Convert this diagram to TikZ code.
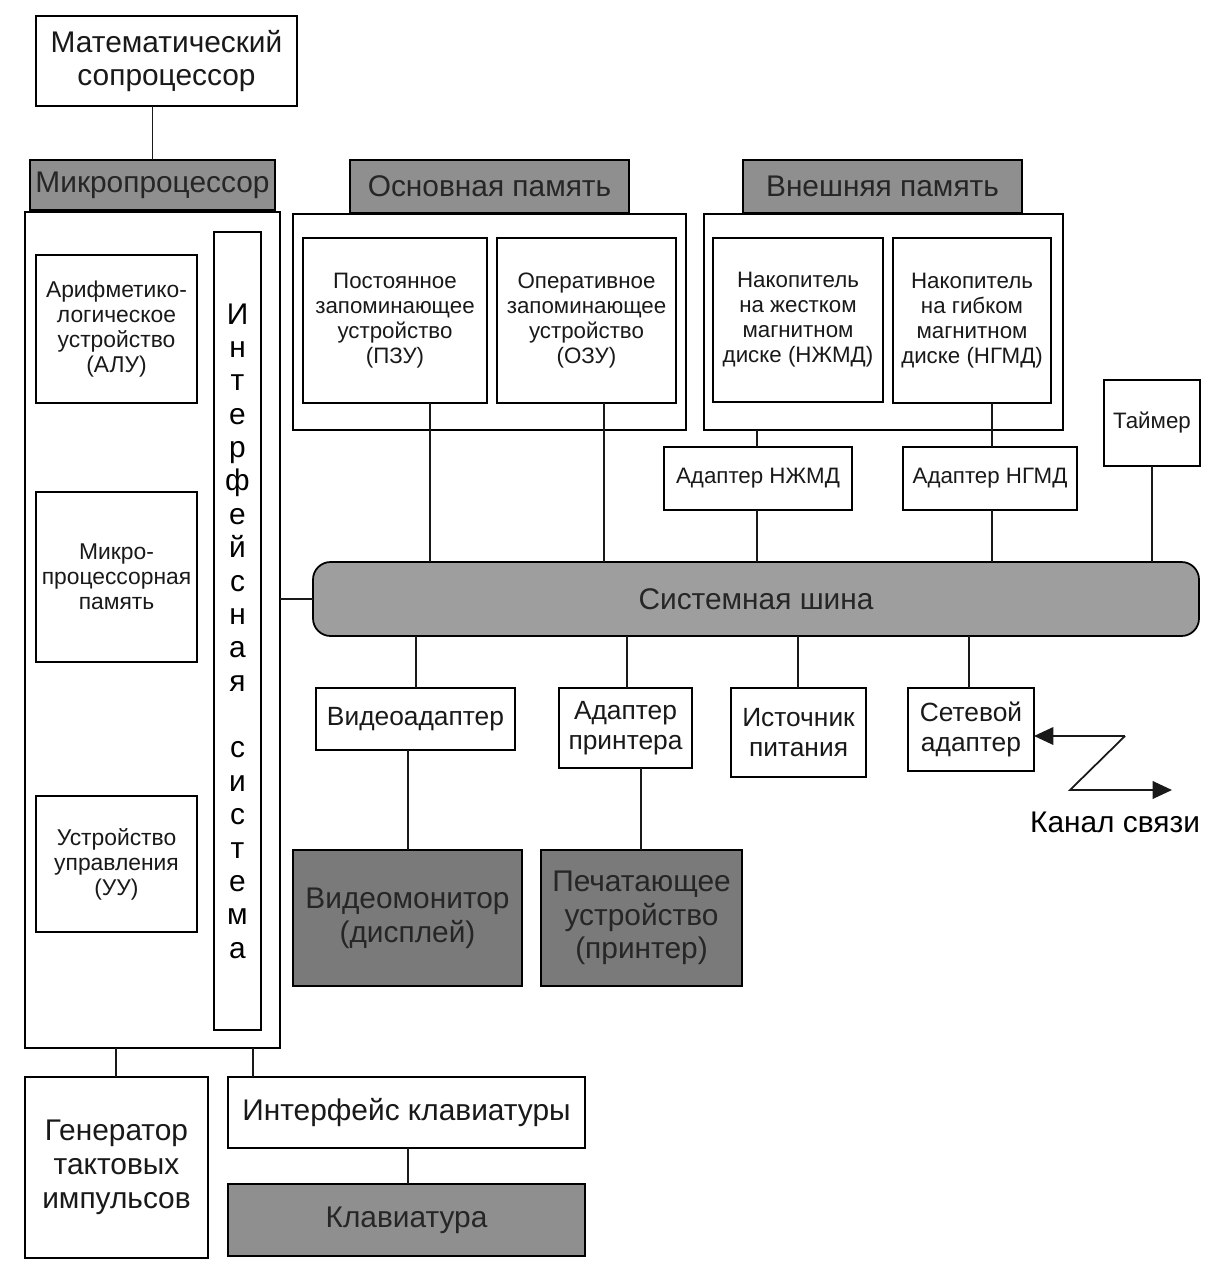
\documentclass[tikz,border=0pt]{standalone}
\usepackage{fontspec}
\setmainfont{Liberation Sans}
\usetikzlibrary{arrows.meta,calc}
\newcommand\bx[7]{\node[#6, minimum width={(#4-#2)*0.02cm}, minimum height={(#5-#3)*0.02cm}] (#1) at ({(#2+#4)/2},{(#3+#5)/2}) {#7};}
\begin{document}
\begin{tikzpicture}[x=0.02cm,y=-0.02cm,
  base/.style={draw=black, line width=1pt, inner sep=0pt, outer sep=0pt, align=center, text=black!90},
  wbox/.style={base, fill=white},
  hdr/.style={base, fill=black!44, text=black!85},
  dark/.style={base, fill=black!52, text=black!85},
  busst/.style={base, fill=black!38, rounded corners=10pt, text=black!85},
  big/.style={font=\fontsize{17}{19.2}\selectfont},
  med/.style={font=\fontsize{15}{17}\selectfont},
  sml/.style={font=\fontsize{12.7}{14.2}\selectfont},
  tiny/.style={font=\fontsize{13}{14.2}\selectfont},
  conn/.style={line width=1pt, draw=black!90},
  arr/.style={conn, -{Triangle[length=11pt,width=10pt]}}
]
\useasboundingbox (0,0) rectangle (1216,1270);
% top
\bx{mat}{36}{16}{297}{106}{wbox,big}{Математический\\сопроцессор}
\bx{mphead}{30}{160}{275}{210}{hdr,big}{Микропроцессор}
\bx{mpout}{25}{212}{280}{1048}{wbox}{}
\bx{alu}{36}{255}{197}{403}{wbox,tiny}{Арифметико-\\логическое\\устройство\\(АЛУ)}
\bx{mpmem}{36}{492}{197}{662}{wbox,tiny}{Микро-\\процессорная\\память}
\bx{uu}{36}{796}{197}{932}{wbox,tiny}{Устройство\\управления\\(УУ)}
\bx{intf}{214}{232}{261}{1030}{wbox}{}
\node[font=\fontsize{17}{19}\selectfont, align=center, inner sep=0pt] (intftext) at (intf.center) {И\\н\\т\\е\\р\\ф\\е\\й\\с\\н\\а\\я\\ \\с\\и\\с\\т\\е\\м\\а};
% main memory
\bx{omhead}{350}{160}{629}{213}{hdr,big}{Основная память}
\bx{omout}{293}{214}{686}{430}{wbox}{}
\bx{pzu}{303}{238}{487}{403}{wbox,sml}{Постоянное\\запоминающее\\устройство\\(ПЗУ)}
\bx{ozu}{497}{238}{676}{403}{wbox,sml}{Оперативное\\запоминающее\\устройство\\(ОЗУ)}
% external memory
\bx{vmhead}{743}{160}{1022}{213}{hdr,big}{Внешняя память}
\bx{vmout}{704}{214}{1063}{430}{wbox}{}
\bx{hdd}{713}{238}{883}{402}{wbox,sml}{Накопитель\\на жестком\\магнитном\\диске (НЖМД)}
\bx{fdd}{893}{238}{1051}{403}{wbox,sml}{Накопитель\\на гибком\\магнитном\\диске (НГМД)}
\bx{ahdd}{664}{447}{852}{510}{wbox,sml}{Адаптер НЖМД}
\bx{afdd}{903}{447}{1077}{510}{wbox,sml}{Адаптер НГМД}
\bx{timer}{1104}{380}{1200}{466}{wbox,sml}{Таймер}
% bus
\bx{bus}{313}{562}{1199}{636}{busst,big}{Системная шина}
% below bus
\bx{video}{316}{688}{515}{750}{wbox,med}{Видеоадаптер}
\bx{aprn}{559}{688}{692}{768}{wbox,med}{Адаптер\\принтера}
\bx{power}{731}{688}{866}{777}{wbox,med}{Источник\\питания}
\bx{net}{908}{688}{1034}{771}{wbox,med}{Сетевой\\адаптер}
\bx{mon}{293}{850}{522}{986}{dark,big}{Видеомонитор\\(дисплей)}
\bx{prn}{541}{850}{742}{986}{dark,big}{Печатающее\\устройство\\(принтер)}
% bottom
\bx{gen}{25}{1077}{208}{1258}{wbox,big}{Генератор\\тактовых\\импульсов}
\bx{kbi}{228}{1077}{585}{1148}{wbox,big}{Интерфейс клавиатуры}
\bx{kb}{228}{1184}{585}{1256}{hdr,big}{Клавиатура}
% x positions for connectors
\coordinate (xpzu) at (430,0);
\coordinate (xozu) at (604,0);
\coordinate (xhdd) at (757,0);
\coordinate (xfdd) at (992,0);
\coordinate (xtim) at (1152,0);
\coordinate (xvid) at (416,0);
\coordinate (xaprn) at (627,0);
\coordinate (xpow) at (798,0);
\coordinate (xnet) at (969,0);
\coordinate (xmon) at (408,0);
\coordinate (xprn) at (641,0);
\coordinate (xgen) at (116,0);
\coordinate (xkbi) at (253,0);
% connectors
\draw[conn] (mphead.north) -- (mphead.north |- mat.south);
\draw[conn] (bus.west) -- (bus.west -| mpout.east);
\draw[conn] (pzu.south -| xpzu) -- (bus.north -| xpzu);
\draw[conn] (ozu.south -| xozu) -- (bus.north -| xozu);
\draw[conn] (vmout.south -| xhdd) -- (ahdd.north -| xhdd);
\draw[conn] (ahdd.south -| xhdd) -- (bus.north -| xhdd);
\draw[conn] (fdd.south -| xfdd) -- (afdd.north -| xfdd);
\draw[conn] (afdd.south -| xfdd) -- (bus.north -| xfdd);
\draw[conn] (timer.south -| xtim) -- (bus.north -| xtim);
\draw[conn] (bus.south -| xvid) -- (video.north -| xvid);
\draw[conn] (bus.south -| xaprn) -- (aprn.north -| xaprn);
\draw[conn] (bus.south -| xpow) -- (power.north -| xpow);
\draw[conn] (bus.south -| xnet) -- (net.north -| xnet);
\draw[conn] (video.south -| xmon) -- (mon.north -| xmon);
\draw[conn] (aprn.south -| xprn) -- (prn.north -| xprn);
\draw[conn] (mpout.south -| xgen) -- (gen.north -| xgen);
\draw[conn] (mpout.south -| xkbi) -- (kbi.north -| xkbi);
\draw[conn] (kbi.south -| xmon) -- (kb.north -| xmon);
% channel
\coordinate (z1) at (1125,736);
\coordinate (z2) at (1070,790);
\coordinate (z3) at (1172,790);
\draw[arr] (z1) -- (net.east |- z1);
\draw[arr] (z1) -- (z2) -- (z3);
\node[big, inner sep=0pt] (chan) at (1115,822) {Канал связи};
\end{tikzpicture}
\end{document}
